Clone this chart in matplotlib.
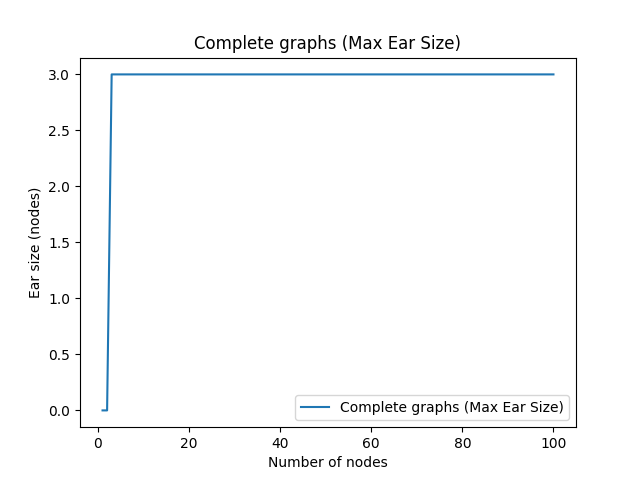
import matplotlib
matplotlib.use('Agg')
import matplotlib.pyplot as plt

# number of nodes in the complete graph
nodes = list(range(1, 101))
# max ear size
max_ear = [0, 0,
           3, 3, 3, 3, 3, 3, 3, 3, 3, 3, 3, 3, 3, 3, 3, 3, 3, 3, 3, 3,
           3, 3, 3, 3, 3, 3, 3, 3, 3, 3, 3, 3, 3, 3, 3, 3, 3, 3, 3, 3,
           3, 3, 3, 3, 3, 3, 3, 3, 3, 3, 3, 3, 3, 3, 3, 3, 3, 3, 3, 3,
           3, 3, 3, 3, 3, 3, 3, 3, 3, 3, 3, 3, 3, 3, 3, 3, 3, 3, 3, 3,
           3, 3, 3, 3, 3, 3, 3, 3, 3, 3, 3, 3, 3, 3, 3, 3, 3, 3]

plt.figure(figsize=(6.4, 4.8), dpi=100)
plt.plot(nodes, max_ear, label='Complete graphs (Max Ear Size)')
plt.xlabel('Number of nodes')
plt.ylabel('Ear size (nodes)')
plt.title('Complete graphs (Max Ear Size)')
plt.legend(loc='lower right')
plt.savefig('out.png')
